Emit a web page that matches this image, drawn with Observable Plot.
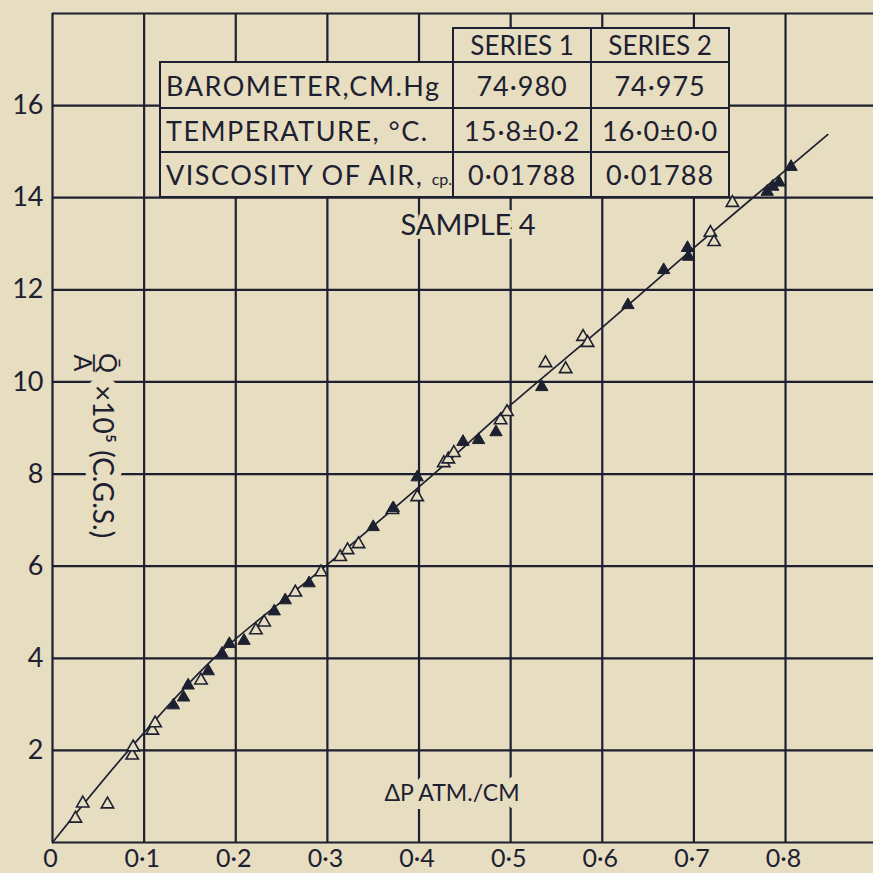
<!DOCTYPE html>
<html><head><meta charset="utf-8">
<script src="https://cdn.jsdelivr.net/npm/d3@7"></script>
<script src="https://cdn.jsdelivr.net/npm/@observablehq/plot@0.6"></script>
<style>
html,body{margin:0;padding:0;background:#e7ddc0;}
#wrap{position:relative;width:873px;height:873px;overflow:hidden;font-family:Lato,"DejaVu Sans",sans-serif;color:#1c2030;}
#wrap svg{position:absolute;left:0;top:0;}
#tbl{position:absolute;left:159px;top:27px;border-collapse:collapse;table-layout:fixed;font-size:27px;}
#tbl td{border:2px solid #1c2030;background:#e7ddc0;padding:0;text-align:center;white-space:nowrap;overflow:hidden;letter-spacing:1px;}
#tbl td.blank{border:none;background:transparent;}
#tbl td.lab{text-align:left;padding-left:5px;letter-spacing:1.5px;}
#tbl td.h{letter-spacing:0px;font-size:26px;}
#tbl small{font-size:16px;letter-spacing:0;}
</style></head><body><div id="wrap"></div>
<script>
const paper = "#e7ddc0", ink = "#1c2030";

// Series 1 (filled triangles)
const s1x = [0.132,0.143,0.148,0.170,0.185,0.193,0.209,0.242,0.254,0.280,0.350,0.372,0.398,0.448,0.465,0.484,0.534,0.628,0.667,0.693,0.694,0.780,0.786,0.793,0.806];
const s1y = [2.98,3.15,3.41,3.72,4.10,4.31,4.38,5.02,5.26,5.63,6.85,7.26,7.93,8.70,8.74,8.91,9.89,11.67,12.43,12.91,12.72,14.13,14.24,14.33,14.67];
// Series 2 (open triangles)
const s2x = [0.025,0.033,0.060,0.087,0.088,0.109,0.112,0.162,0.222,0.231,0.265,0.293,0.314,0.322,0.334,0.371,0.398,0.427,0.432,0.438,0.489,0.496,0.538,0.560,0.579,0.584,0.718,0.722,0.742];
const s2y = [0.52,0.85,0.83,1.89,2.07,2.43,2.59,3.52,4.61,4.78,5.43,5.87,6.20,6.35,6.48,7.22,7.50,8.24,8.32,8.46,9.17,9.35,10.41,10.28,10.98,10.85,13.24,13.04,13.89];
// Drawn curve through the points
const fitX = [0,0.083,0.176,0.298,0.416,0.5,0.601,0.704,0.846];
const fitY = [0,2.0,4.0,6.0,8.0,9.5,11.2,12.98,15.37];

const xTicks = [0,0.1,0.2,0.3,0.4,0.5,0.6,0.7,0.8];
const xTickLabels = ["0","0·1","0·2","0·3","0·4","0·5","0·6","0·7","0·8"];
const yGrid = [0,2,4,6,8,10,12,14,16,18];
const yTicks = [2,4,6,8,10,12,14,16];
const yTickLabels = ["2","4","6","8","10","12","14","16"];

const xLabel = "ΔP ATM./CM";
const yLabelNum = "Q\u0304", yLabelDen = "A", yLabelBar = "—", yLabelRest = "×10⁵ (C.G.S.)";
const sampleLabel = "SAMPLE 4";

const tableHeader = ["SERIES 1","SERIES 2"];
const tableRowLabels = ["BAROMETER,CM.Hg","TEMPERATURE, °C.","VISCOSITY OF AIR, <small>cp.</small>"];
const series1Values = ["74·980","15·8±0·2","0·01788"];
const series2Values = ["74·975","16·0±0·0","0·01788"];

const s1 = s1x.map((x,i)=>({x, y:s1y[i]}));
const s2 = s2x.map((x,i)=>({x, y:s2y[i]}));
const fit = fitX.map((x,i)=>({x, y:fitY[i]}));

const halo = {stroke: paper, strokeLinejoin:"round", paintOrder:"stroke", fill: ink};
// y-axis label pieces (rotated, reading downwards)
const yPieces = [
  {t: yLabelRest, anchor: "start", dx: 49, dy: -43, fs: 28},
  {t: yLabelNum, anchor: "middle", dx: 54, dy: -65, fs: 25},
  {t: yLabelBar, anchor: "middle", dx: 42, dy: -65, fs: 26},
  {t: yLabelDen, anchor: "middle", dx: 29, dy: -65, fs: 25}
];
const yHalo = yPieces.map(p => Plot.text([p.t], {text: d=>d, frameAnchor: "left", rotate: 90, textAnchor: p.anchor, dx: p.dx, dy: p.dy, fontSize: p.fs, fill: paper, stroke: paper, strokeWidth: 16, strokeLinejoin: "round"}));
const yInk = yPieces.map(p => Plot.text([p.t], {text: d=>d, frameAnchor: "left", rotate: 90, textAnchor: p.anchor, dx: p.dx, dy: p.dy, fontSize: p.fs, fill: ink}));

const chart = Plot.plot({
  width: 873, height: 873,
  marginLeft: 52, marginRight: 0, marginTop: 13, marginBottom: 31,
  x: {domain: [0, 0.896], axis: null},
  y: {domain: [0, 18], axis: null},
  style: {background: "transparent", fontFamily: "Lato, 'DejaVu Sans', sans-serif", color: ink, overflow: "visible"},
  marks: [
    Plot.ruleY(yGrid, {y: d=>d, stroke: ink, strokeWidth: 2.2}),
    Plot.ruleX(xTicks, {x: d=>d, stroke: ink, strokeWidth: 2.2}),
    Plot.text([xLabel], {text: d=>d, frameAnchor: "bottom", dx: -11, dy: -42, fontSize: 23, strokeWidth: 16, ...halo}),
    Plot.text([sampleLabel], {text: d=>d, frameAnchor: "top", dx: 5, dy: 201, fontSize: 29, strokeWidth: 8, ...halo}),
    ...yHalo,
    ...yInk,
    Plot.line(fit, {x: "x", y: "y", stroke: ink, strokeWidth: 1.7, curve: "catmull-rom"}),
    Plot.dot(s2, {x: "x", y: "y", symbol: "triangle", r: 4.6, fill: paper, stroke: ink, strokeWidth: 1.6}),
    Plot.dot(s1, {x: "x", y: "y", symbol: "triangle", r: 4.6, fill: ink, stroke: ink, strokeWidth: 1}),
    Plot.text(xTicks, {x: d=>d, y: 0, text: (d,i)=>xTickLabels[i], dy: 16, dx: -2, fontSize: 25, fill: ink}),
    Plot.text(yTicks, {x: 0, y: d=>d, text: (d,i)=>yTickLabels[i], textAnchor: "end", dx: -9, fontSize: 27, fill: ink})
  ]
});

const wrap = document.getElementById("wrap");
wrap.appendChild(chart);

// Data table annotation
const colW = [287, 138, 138];
const rowH = [31, 46, 44, 45];
let html = `<table id="tbl"><colgroup>${colW.map(w=>`<col style="width:${w}px">`).join("")}</colgroup>`;
html += `<tr style="height:${rowH[0]}px"><td class="blank"></td>${tableHeader.map(h=>`<td class="h">${h}</td>`).join("")}</tr>`;
tableRowLabels.forEach((lab,i)=>{
  html += `<tr style="height:${rowH[i+1]}px"><td class="lab">${lab}</td><td>${series1Values[i]}</td><td>${series2Values[i]}</td></tr>`;
});
html += `</table>`;
wrap.insertAdjacentHTML("beforeend", html);
</script>
</body></html>
